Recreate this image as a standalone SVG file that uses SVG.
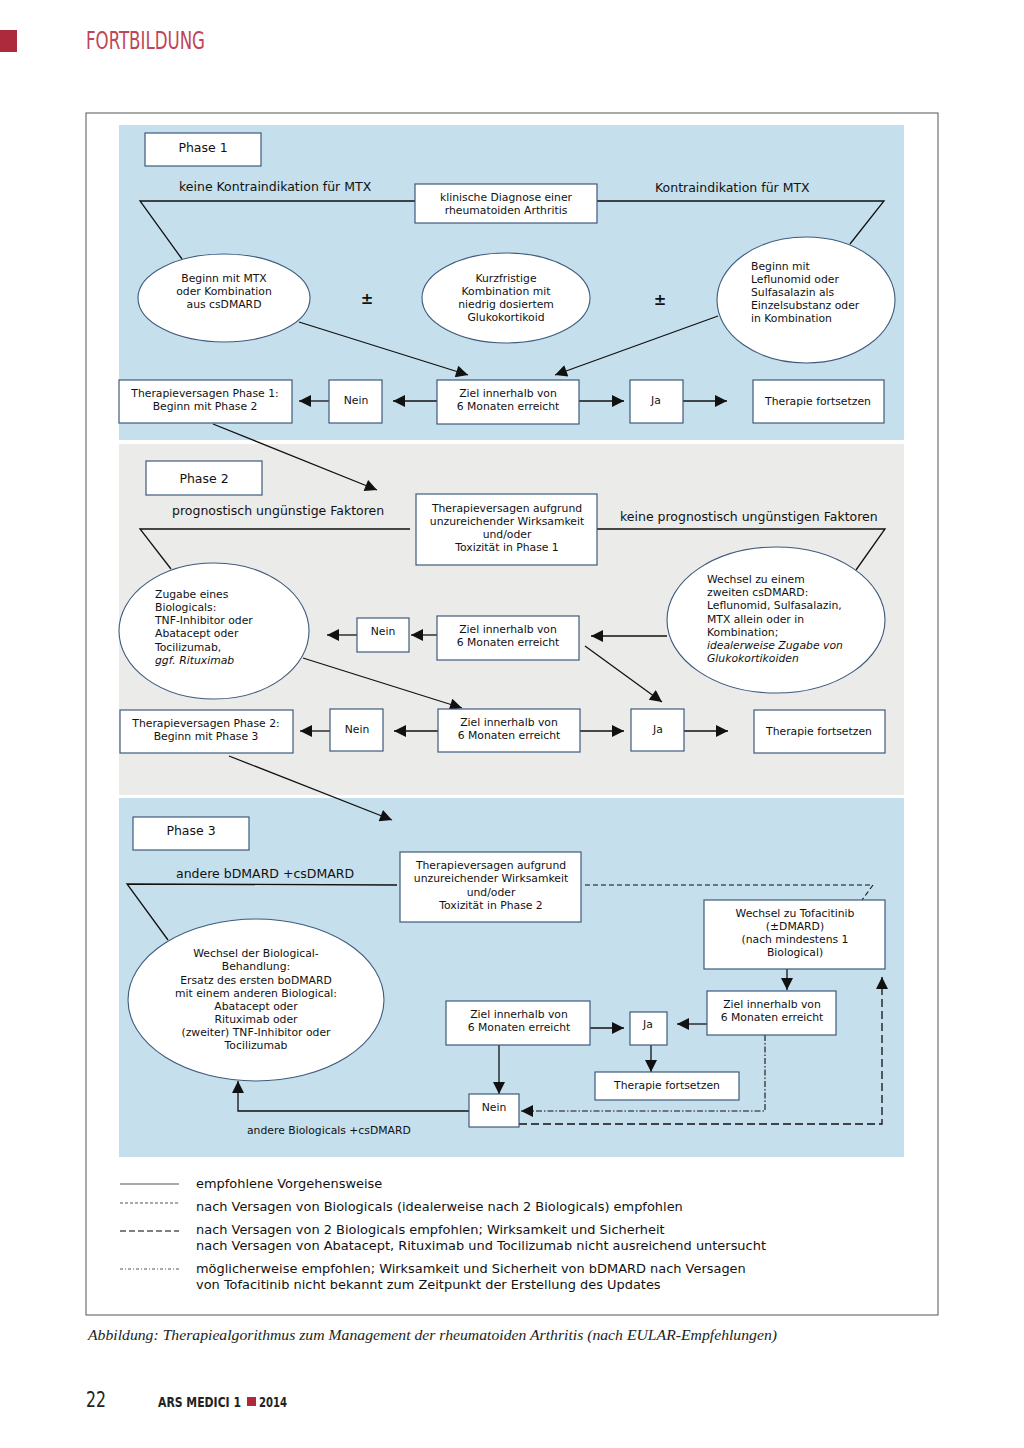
<svg xmlns="http://www.w3.org/2000/svg" width="1024" height="1448" viewBox="0 0 1024 1448">
<defs>
<style>
.t{font-family:"DejaVu Sans",Verdana,sans-serif;font-size:10.8px;fill:#111}
.tc{text-anchor:middle}
.lb{font-family:"DejaVu Sans",Verdana,sans-serif;font-size:12.5px;fill:#111}
.lg{font-family:"DejaVu Sans",Verdana,sans-serif;font-size:12.95px;fill:#111}
.box{fill:#fff;stroke:#3f5a7c;stroke-width:1.2}
.ell{fill:#fff;stroke:#3f5a7c;stroke-width:1.1}
.ln{fill:none;stroke:#111;stroke-width:1.3}
.ar{fill:none;stroke:#111;stroke-width:1.3;marker-end:url(#ah)}
.it{font-style:italic}
.pm{font-family:"DejaVu Sans",Verdana,sans-serif;font-size:15px;font-weight:bold;fill:#111;text-anchor:middle}
</style>
<marker id="ah" viewBox="0 0 10 10" refX="10" refY="5" markerWidth="14" markerHeight="12" markerUnits="userSpaceOnUse" orient="auto">
<path d="M0,0 L10,5 L0,10 z" fill="#111"/>
</marker>
</defs>
<rect width="1024" height="1448" fill="#fff"/>
<!-- header -->
<rect x="0" y="30" width="17" height="22" fill="#ad2a3c"/>
<text x="86" y="49" font-family="'Liberation Sans Narrow','DejaVu Sans Condensed',sans-serif" font-size="24" fill="#c04556" textLength="119" lengthAdjust="spacingAndGlyphs">FORTBILDUNG</text>
<!-- frame -->
<rect x="86" y="113" width="852" height="1202" fill="none" stroke="#555" stroke-width="1"/>
<!-- panels -->
<rect x="119" y="125" width="785" height="315" fill="#c6dfec"/>
<rect x="119" y="444" width="785" height="351" fill="#ebebea"/>
<rect x="119" y="798" width="785" height="359" fill="#c6dfec"/>

<g id="connectors">
<!-- phase 1 -->
<polyline class="ln" points="415,201 140,201 182,259"/>
<polyline class="ln" points="597,201 884,201 850,244"/>
<line class="ar" x1="299" y1="322" x2="468" y2="375"/>
<line class="ar" x1="718" y1="316" x2="555" y2="375"/>
<line class="ar" x1="437" y1="401" x2="393" y2="401"/>
<line class="ar" x1="329" y1="401" x2="299" y2="401"/>
<line class="ar" x1="579" y1="401" x2="624" y2="401"/>
<line class="ar" x1="683" y1="401" x2="727" y2="401"/>
<line class="ar" x1="213" y1="424" x2="377" y2="490"/>
<!-- phase 2 -->
<polyline class="ln" points="410,529 140,529 171,569"/>
<polyline class="ln" points="597,529 885,529 856,570"/>
<line class="ar" x1="437" y1="635" x2="411" y2="635"/>
<line class="ar" x1="357" y1="635" x2="327" y2="635"/>
<line class="ar" x1="667" y1="636" x2="591" y2="636"/>
<line class="ar" x1="585" y1="646" x2="662" y2="702"/>
<line class="ar" x1="303" y1="658" x2="462" y2="708"/>
<line class="ar" x1="438" y1="731" x2="394" y2="731"/>
<line class="ar" x1="330" y1="731" x2="300" y2="731"/>
<line class="ar" x1="580" y1="731" x2="624" y2="731"/>
<line class="ar" x1="684" y1="731" x2="728" y2="731"/>
<line class="ar" x1="229" y1="756" x2="392" y2="820"/>
<!-- phase 3 -->
<polyline class="ln" points="397,885 127,884 168,940"/>
<polyline fill="none" stroke="#111" stroke-width="1.1" stroke-dasharray="5,3" points="585,885 873,885 862,900"/>
<line class="ar" x1="787" y1="969" x2="787" y2="990"/>
<line class="ar" x1="707" y1="1024" x2="677" y2="1024"/>
<line class="ar" x1="651" y1="1045" x2="651" y2="1072"/>
<line class="ar" x1="590" y1="1028" x2="624" y2="1028"/>
<line class="ar" x1="499" y1="1045" x2="499" y2="1094"/>
<polyline class="ar" points="469,1111 238,1111 238,1081"/>
<polyline fill="none" stroke="#111" stroke-width="1.1" stroke-dasharray="6,2,1.5,2" marker-end="url(#ah)" points="765,1035 765,1111 521,1111"/>
<polyline fill="none" stroke="#111" stroke-width="1.3" stroke-dasharray="8,4" marker-end="url(#ah)" points="519,1124 882,1124 882,977"/>
</g>

<!-- Phase 1 nodes -->
<g id="p1-label"><rect class="box" x="145" y="133" width="116" height="33"/><text class="lb tc" x="203" y="152">Phase 1</text></g>
<text class="lb" x="179" y="191">keine Kontraindikation für MTX</text>
<text class="lb" x="655" y="192">Kontraindikation für MTX</text>
<g id="p1-diag"><rect class="box" x="415" y="184" width="182" height="39"/><text class="t tc" x="506" y="201">klinische Diagnose einer</text><text class="t tc" x="506" y="214">rheumatoiden Arthritis</text></g>
<g id="p1-mtx"><ellipse class="ell" cx="224" cy="298" rx="86" ry="44"/><text class="t tc" x="224" y="282">Beginn mit MTX</text><text class="t tc" x="224" y="295">oder Kombination</text><text class="t tc" x="224" y="308">aus csDMARD</text></g>
<text class="pm" x="367" y="304">±</text>
<g id="p1-gluko"><ellipse class="ell" cx="506" cy="298" rx="84" ry="45"/><text class="t tc" x="506" y="282">Kurzfristige</text><text class="t tc" x="506" y="295">Kombination mit</text><text class="t tc" x="506" y="308">niedrig dosiertem</text><text class="t tc" x="506" y="321">Glukokortikoid</text></g>
<text class="pm" x="660" y="305">±</text>
<g id="p1-lef"><ellipse class="ell" cx="806" cy="300" rx="89" ry="63"/><text class="t" x="751" y="270">Beginn mit</text><text class="t" x="751" y="283">Leflunomid oder</text><text class="t" x="751" y="296">Sulfasalazin als</text><text class="t" x="751" y="309">Einzelsubstanz oder</text><text class="t" x="751" y="322">in Kombination</text></g>
<g id="p1-ziel"><rect class="box" x="437" y="380" width="142" height="44"/><text class="t tc" x="508" y="397">Ziel innerhalb von</text><text class="t tc" x="508" y="410">6 Monaten erreicht</text></g>
<g id="p1-nein"><rect class="box" x="329" y="380" width="53" height="43"/><text class="t tc" x="356" y="404">Nein</text></g>
<g id="p1-fail"><rect class="box" x="119" y="380" width="173" height="43"/><text class="t tc" x="205" y="397">Therapieversagen Phase 1:</text><text class="t tc" x="205" y="410">Beginn mit Phase 2</text></g>
<g id="p1-ja"><rect class="box" x="630" y="380" width="53" height="43"/><text class="t tc" x="656" y="404">Ja</text></g>
<g id="p1-fort"><rect class="box" x="753" y="380" width="131" height="43"/><text class="t tc" x="818" y="405">Therapie fortsetzen</text></g>

<!-- Phase 2 nodes -->
<g id="p2-label"><rect class="box" x="146" y="461" width="116" height="34"/><text class="lb tc" x="204" y="483">Phase 2</text></g>
<text class="lb" x="172" y="515">prognostisch ungünstige Faktoren</text>
<text class="lb" x="620" y="521">keine prognostisch ungünstigen Faktoren</text>
<g id="p2-fail1"><rect class="box" x="416" y="494" width="181" height="71"/><text class="t tc" x="507" y="512">Therapieversagen aufgrund</text><text class="t tc" x="507" y="525">unzureichender Wirksamkeit</text><text class="t tc" x="507" y="538">und/oder</text><text class="t tc" x="507" y="551">Toxizität in Phase 1</text></g>
<g id="p2-bio"><ellipse class="ell" cx="214" cy="631" rx="95" ry="68"/><text class="t" x="155" y="598">Zugabe eines</text><text class="t" x="155" y="611">Biologicals:</text><text class="t" x="155" y="624">TNF-Inhibitor oder</text><text class="t" x="155" y="637">Abatacept oder</text><text class="t" x="155" y="651">Tocilizumab,</text><text class="t it" x="155" y="664">ggf. Rituximab</text></g>
<g id="p2-ziel1"><rect class="box" x="437" y="616" width="142" height="44"/><text class="t tc" x="508" y="633">Ziel innerhalb von</text><text class="t tc" x="508" y="646">6 Monaten erreicht</text></g>
<g id="p2-nein1"><rect class="box" x="357" y="618" width="52" height="34"/><text class="t tc" x="383" y="635">Nein</text></g>
<g id="p2-csd"><ellipse class="ell" cx="776" cy="620" rx="109" ry="73"/><text class="t" x="707" y="583">Wechsel zu einem</text><text class="t" x="707" y="596">zweiten csDMARD:</text><text class="t" x="707" y="609">Leflunomid, Sulfasalazin,</text><text class="t" x="707" y="623">MTX allein oder in</text><text class="t" x="707" y="636">Kombination;</text><text class="t it" x="707" y="649">idealerweise Zugabe von</text><text class="t it" x="707" y="662">Glukokortikoiden</text></g>
<g id="p2-ziel2"><rect class="box" x="438" y="709" width="142" height="43"/><text class="t tc" x="509" y="726">Ziel innerhalb von</text><text class="t tc" x="509" y="739">6 Monaten erreicht</text></g>
<g id="p2-nein2"><rect class="box" x="330" y="709" width="53" height="42"/><text class="t tc" x="357" y="733">Nein</text></g>
<g id="p2-fail2"><rect class="box" x="120" y="710" width="173" height="43"/><text class="t tc" x="206" y="727">Therapieversagen Phase 2:</text><text class="t tc" x="206" y="740">Beginn mit Phase 3</text></g>
<g id="p2-ja"><rect class="box" x="631" y="709" width="53" height="42"/><text class="t tc" x="658" y="733">Ja</text></g>
<g id="p2-fort"><rect class="box" x="754" y="710" width="131" height="43"/><text class="t tc" x="819" y="735">Therapie fortsetzen</text></g>

<!-- Phase 3 nodes -->
<g id="p3-label"><rect class="box" x="133" y="817" width="116" height="33"/><text class="lb tc" x="191" y="835">Phase 3</text></g>
<text class="lb" x="176" y="878">andere bDMARD +csDMARD</text>
<g id="p3-fail"><rect class="box" x="400" y="852" width="181" height="70"/><text class="t tc" x="491" y="869">Therapieversagen aufgrund</text><text class="t tc" x="491" y="882">unzureichender Wirksamkeit</text><text class="t tc" x="491" y="896">und/oder</text><text class="t tc" x="491" y="909">Toxizität in Phase 2</text></g>
<g id="p3-tofa"><rect class="box" x="704" y="900" width="181" height="69"/><text class="t tc" x="795" y="917">Wechsel zu Tofacitinib</text><text class="t tc" x="795" y="930">(±DMARD)</text><text class="t tc" x="795" y="943">(nach mindestens 1</text><text class="t tc" x="795" y="956">Biological)</text></g>
<g id="p3-ziel2"><rect class="box" x="707" y="991" width="129" height="44"/><text class="t tc" x="772" y="1008">Ziel innerhalb von</text><text class="t tc" x="772" y="1021">6 Monaten erreicht</text></g>
<g id="p3-ja"><rect class="box" x="630" y="1012" width="37" height="33"/><text class="t tc" x="648" y="1028">Ja</text></g>
<g id="p3-fort"><rect class="box" x="595" y="1072" width="144" height="28"/><text class="t tc" x="667" y="1089">Therapie fortsetzen</text></g>
<g id="p3-ziel1"><rect class="box" x="446" y="1001" width="144" height="44"/><text class="t tc" x="519" y="1018">Ziel innerhalb von</text><text class="t tc" x="519" y="1031">6 Monaten erreicht</text></g>
<g id="p3-nein"><rect class="box" x="469" y="1094" width="50" height="33"/><text class="t tc" x="494" y="1111">Nein</text></g>
<g id="p3-bio"><ellipse class="ell" cx="256" cy="1000" rx="128" ry="81"/><text class="t tc" x="256" y="957">Wechsel der Biological-</text><text class="t tc" x="256" y="970">Behandlung:</text><text class="t tc" x="256" y="984">Ersatz des ersten boDMARD</text><text class="t tc" x="256" y="997">mit einem anderen Biological:</text><text class="t tc" x="256" y="1010">Abatacept oder</text><text class="t tc" x="256" y="1023">Rituximab oder</text><text class="t tc" x="256" y="1036">(zweiter) TNF-Inhibitor oder</text><text class="t tc" x="256" y="1049">Tocilizumab</text></g>
<text class="t" x="247" y="1134">andere Biologicals +csDMARD</text>

<!-- legend -->
<g id="legend">
<line x1="120" y1="1184" x2="179" y2="1184" stroke="#555" stroke-width="1.2"/>
<line x1="120" y1="1203" x2="179" y2="1203" stroke="#555" stroke-width="1" stroke-dasharray="3,2"/>
<line x1="120" y1="1231" x2="179" y2="1231" stroke="#555" stroke-width="1.3" stroke-dasharray="6,3"/>
<line x1="120" y1="1269" x2="179" y2="1269" stroke="#555" stroke-width="1" stroke-dasharray="3,2,1,2"/>
<text class="lg" x="196" y="1188">empfohlene Vorgehensweise</text>
<text class="lg" x="196" y="1211">nach Versagen von Biologicals (idealerweise nach 2 Biologicals) empfohlen</text>
<text class="lg" x="196" y="1234">nach Versagen von 2 Biologicals empfohlen; Wirksamkeit und Sicherheit</text>
<text class="lg" x="196" y="1250">nach Versagen von Abatacept, Rituximab und Tocilizumab nicht ausreichend untersucht</text>
<text class="lg" x="196" y="1273">möglicherweise empfohlen; Wirksamkeit und Sicherheit von bDMARD nach Versagen</text>
<text class="lg" x="196" y="1289">von Tofacitinib nicht bekannt zum Zeitpunkt der Erstellung des Updates</text>
</g>

<!-- caption & footer -->
<text x="88" y="1340" font-family="'Liberation Serif',serif" font-style="italic" font-size="15" fill="#222" textLength="689" lengthAdjust="spacingAndGlyphs">Abbildung: Therapiealgorithmus zum Management der rheumatoiden Arthritis (nach EULAR-Empfehlungen)</text>
<text x="86" y="1407" font-family="'Liberation Sans Narrow','DejaVu Sans Condensed',sans-serif" font-size="21" fill="#222" textLength="20" lengthAdjust="spacingAndGlyphs">22</text>
<text x="158" y="1407" font-family="'Liberation Sans Narrow','DejaVu Sans Condensed',sans-serif" font-size="13.5" font-weight="600" fill="#222" textLength="83" lengthAdjust="spacingAndGlyphs">ARS MEDICI 1</text>
<rect x="247" y="1397" width="9" height="9" fill="#ad2a3c"/>
<text x="259" y="1407" font-family="'Liberation Sans Narrow','DejaVu Sans Condensed',sans-serif" font-size="13.5" font-weight="600" fill="#222" textLength="28" lengthAdjust="spacingAndGlyphs">2014</text>
</svg>
